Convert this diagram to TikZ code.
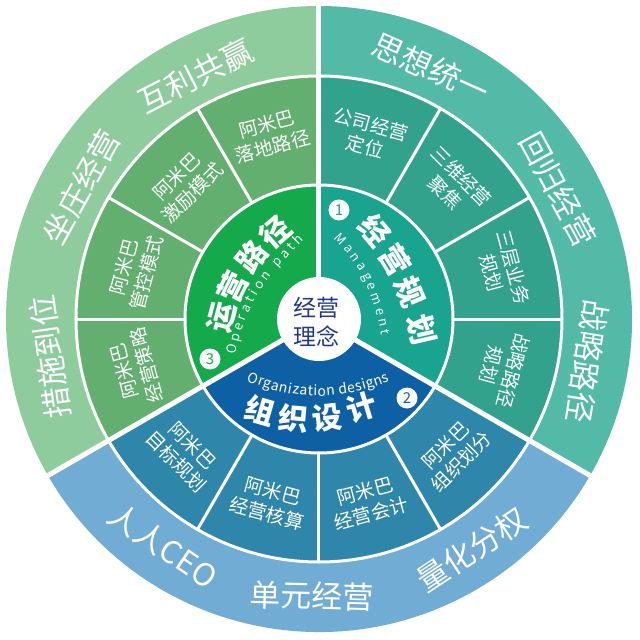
\documentclass[tikz,border=0pt]{standalone}
\usepackage{fontspec}
\setmainfont{Noto Sans CJK SC}
\usetikzlibrary{decorations.text}
\definecolor{ogreen}{HTML}{8ECC9D}
\definecolor{mgreen}{HTML}{62AF6F}
\definecolor{igreen}{HTML}{14A94B}
\definecolor{oteal}{HTML}{53BAA7}
\definecolor{mteal}{HTML}{32A28D}
\definecolor{iteal}{HTML}{19A48F}
\definecolor{oblue}{HTML}{70ACD4}
\definecolor{mblue}{HTML}{2E86AA}
\definecolor{iblue}{HTML}{0E60A4}
\definecolor{navy}{HTML}{22398A}
\newcommand{\piesec}[4]{\fill[#1] (0,0) -- (#2:#4pt) arc[start angle=#2, end angle=#3, radius=#4pt] -- cycle;}
\tikzset{
  outtxt/.style={text=white, font=\fontsize{31}{31}\selectfont, inner sep=0pt},
  midtxt/.style={text=white, font=\fontsize{19}{23}\selectfont, align=center, inner sep=0pt},
  intxt/.style={text=white, font=\fontsize{30}{30}\selectfont\bfseries, inner sep=0pt},
  numc/.style={circle, fill=white, minimum size=21pt, inner sep=0pt, font=\fontsize{15}{15}\selectfont},
  sepline/.style={white, line width=3pt},
  secline/.style={white, line width=5pt},
}
\begin{document}
\begin{tikzpicture}[x=1pt,y=1pt]
\useasboundingbox[fill=white] (-319,-321) rectangle (321,319);
% sectors: green 90-210, teal -30-90, blue 210-330
\piesec{ogreen}{90}{210}{313}
\piesec{oteal}{-30}{90}{313}
\piesec{oblue}{210}{330}{313}
\piesec{mgreen}{90}{210}{243}
\piesec{mteal}{-30}{90}{243}
\piesec{mblue}{210}{330}{243}
\piesec{igreen}{90}{210}{134}
\piesec{iteal}{-30}{90}{134}
\piesec{iblue}{210}{330}{134}
% ring separators
\draw[sepline] (0,0) circle[radius=243pt];
\draw[sepline] (0,0) circle[radius=134pt];
\foreach \a in {0,30,60,120,150,180,240,270,300}
  \draw[sepline] (\a:134pt) -- (\a:243pt);
\foreach \a in {90,210,330}
  \draw[secline] (0,0) -- (\a:316pt);
% centre
\node[circle, fill=white, minimum size=84pt, inner sep=0pt] (core) at (0,0) {};
\node[text=navy, align=center, font=\fontsize{23}{29}\selectfont, inner sep=0pt] (coretxt) at (-2,-3) {经营\\理念};
% middle ring cells
\foreach \a/\lab [count=\i] in {75/{公司经营\\定位},45/{三维经营\\聚焦},15/{三层业务\\规划},-15/{战略路径\\规划},105/{阿米巴\\落地路径},135/{阿米巴\\激励模式},165/{阿米巴\\管控模式},195/{阿米巴\\经营策略}}
  \node[midtxt, rotate=\a-90] (m\i) at (\a:190pt) {\lab};
\foreach \a/\lab [count=\i] in {-45/{阿米巴\\组织划分},-75/{阿米巴\\经营会计},-105/{阿米巴\\经营核算},-135/{阿米巴\\目标规划}}
  \node[midtxt, rotate=\a+90] (mb\i) at (\a:190pt) {\lab};
% outer ring
\node[outtxt, rotate=27] (o1) at (117:273pt) {互利共赢};
\node[outtxt, rotate=61] (o2) at (151:272pt) {坐庄经营};
\node[outtxt, rotate=98] (o3) at (188:272pt) {措施到位};
\node[outtxt, rotate=-24] (o4) at (66:275pt) {思想统一};
\node[outtxt, rotate=-61.5] (o5) at (28.5:272pt) {回归经营};
\node[outtxt, rotate=-99] (o6) at (-9:272pt) {战略路径};
\node[outtxt, rotate=-34.5] (o7) at (-124.5:275pt) {人人CEO};
\node[outtxt, rotate=-1.5] (o8) at (-91.5:277pt) {单元经营};
\node[outtxt, rotate=33.5] (o9) at (-56.5:277pt) {量化分权};
% inner ring titles
\node[intxt, rotate=-50] (k1) at (56,89) {经};
\node[intxt, rotate=-58] (k2) at (76,59) {营};
\node[intxt, rotate=-67] (k3) at (91,27) {规};
\node[intxt, rotate=-77] (k4) at (103,-11) {划};
\node[intxt, rotate=75] (g1) at (-97,2) {运};
\node[intxt, rotate=64] (g2) at (-86,32) {营};
\node[intxt, rotate=52] (g3) at (-67,62) {路};
\node[intxt, rotate=41] (g4) at (-44,87) {径};
\node[intxt, rotate=-16] (b1) at (-59,-91) {组};
\node[intxt, rotate=-5] (b2) at (-26,-99) {织};
\node[intxt, rotate=6] (b3) at (8,-99) {设};
\node[intxt, rotate=17] (b4) at (43,-88) {计};
% English subtitles
\path[decorate, decoration={text along path, text color=white, text align={fit to path},
  text={|\fontsize{13}{13}\selectfont|Management}}]
  (14.6,80.6) to[out=-45,in=101] (62.7,-16.2);
\path[decorate, decoration={text along path, text color=white, text align={fit to path},
  text={|\fontsize{13}{13}\selectfont|Operation path}}]
  (-83,-36) to[out=80,in=225] (-15,79);
\path[decorate, decoration={text along path, text color=white, text align={fit to path},
  text={|\fontsize{14}{14}\selectfont|Organization designs}}]
  (-72,-62) to[out=-21,in=201] (71,-62);
% numbers
\node[numc, text=iteal] (n1) at (20,109) {1};
\node[numc, text=iblue] (n2) at (88,-79) {2};
\node[numc, text=igreen] (n3) at (-109,-40) {3};
\end{tikzpicture}
\end{document}
